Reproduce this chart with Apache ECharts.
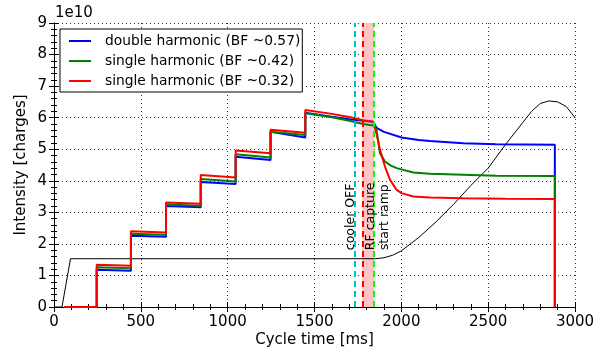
<!DOCTYPE html>
<html>
<head>
<meta charset="utf-8">
<script src="https://cdn.jsdelivr.net/npm/echarts@6/dist/echarts.min.js"></script>
<style>
  html, body { margin: 0; padding: 0; background: #fff; }
  #chart { width: 608px; height: 359px; }
</style>
</head>
<body>
<div id="chart"></div>
<script>
// values in units of 1e10 charges, time in ms
const seriesNames = ['double harmonic (BF ~0.57)', 'single harmonic (BF ~0.42)', 'single harmonic (BF ~0.32)'];

const blueData = [[60,0],[246,0],[246,1.18],[443,1.15],[443,2.26],[645,2.23],[645,3.20],[845,3.16],[845,3.96],[1046,3.90],
  [1046,4.76],[1247,4.66],[1247,5.55],[1447,5.37],[1447,6.16],[1600,6.03],[1700,5.95],[1780,5.90],[1838,5.87],[1857,5.68],
  [1900,5.55],[2001,5.37],[2100,5.29],[2165,5.26],[2356,5.19],[2548,5.16],[2884,5.14],[2884,0]];

const greenData = [[60,0],[246,0],[246,1.26],[443,1.23],[443,2.32],[645,2.29],[645,3.25],[845,3.21],[845,4.06],[1046,3.98],
  [1046,4.84],[1247,4.74],[1247,5.55],[1447,5.45],[1447,6.14],[1600,6.01],[1700,5.90],[1780,5.80],[1838,5.75],[1857,5.62],
  [1877,4.87],[1906,4.61],[1940,4.48],[1973,4.40],[2069,4.26],[2165,4.22],[2356,4.19],[2548,4.16],[2884,4.15],[2884,0]];

const redData = [[60,0],[246,0],[246,1.34],[443,1.31],[443,2.40],[645,2.36],[645,3.31],[845,3.27],[845,4.18],[1046,4.10],
  [1046,4.96],[1247,4.87],[1247,5.62],[1447,5.52],[1447,6.24],[1600,6.12],[1700,6.02],[1780,5.92],[1838,5.87],[1857,5.50],
  [1877,4.98],[1906,4.45],[1935,4.03],[1973,3.71],[2001,3.61],[2069,3.50],[2165,3.47],[2356,3.45],[2600,3.43],[2884,3.42],[2884,0]];

const rampData = [[0,0],[46,0],[95,1.53],[1850,1.53],[1900,1.56],[1950,1.64],[2000,1.78],[2100,2.20],[2200,2.70],[2300,3.25],
  [2400,3.85],[2500,4.40],[2600,5.15],[2700,5.85],[2750,6.20],[2800,6.45],[2850,6.53],[2900,6.50],[2950,6.35],[3000,6.00]];

const coolerOffTime = 1733;
const rfCaptureTime = 1780;
const rampStartTime = 1843;
const captureBand = [1775, 1843];

const xRange = [0, 3000, 500];
const yRange = [0, 9, 1];
const exponentLabel = '1e10';
const eventLabels = [['cooler OFF', 1708], ['RF capture', 1822], ['start ramp', 1902]];
const eventLabelBase = 1.8;

const font = 'DejaVu Sans';
let chart = echarts.init(document.getElementById('chart'));

function plain(v) { return String(v); }

function axisCommon(show) {
  return {
    axisLine: { show: true, lineStyle: { color: '#000', width: 1 } },
    axisTick: { show: true, inside: true, length: 5, lineStyle: { color: '#000' } },
    minorTick: { show: true, splitNumber: 5, length: 3, lineStyle: { color: '#000' } },
    axisLabel: { show: show, color: '#000', fontFamily: font, fontSize: 15, formatter: plain }
  };
}

let option = {
  animation: false,
  backgroundColor: '#fff',
  grid: { left: 54, right: 33, top: 23, bottom: 52 },
  legend: {
    data: seriesNames,
    orient: 'vertical',
    left: 60,
    top: 29,
    padding: [5, 2, 4, 9],
    itemGap: 6,
    itemWidth: 22,
    itemHeight: 2,
    icon: 'rect',
    backgroundColor: '#fff',
    borderColor: '#000',
    borderWidth: 1,
    borderRadius: 0,
    textStyle: { color: '#000', fontFamily: font, fontSize: 13.8, lineHeight: 14, padding: [0, 0, 0, 9] }
  },
  xAxis: [
    Object.assign({
      type: 'value', min: xRange[0], max: xRange[1], interval: xRange[2],
      name: 'Cycle time [ms]', nameLocation: 'middle', nameGap: 26, nameMoveOverlap: false,
      nameTextStyle: { color: '#000', fontFamily: font, fontSize: 15, verticalAlign: 'top' },
      splitLine: { show: true, lineStyle: { color: '#333', type: [1, 3], width: 1 } }
    }, axisCommon(true), { axisLabel: { color: '#000', fontFamily: font, fontSize: 15, margin: 8, formatter: plain } }),
    Object.assign({
      type: 'value', min: xRange[0], max: xRange[1], interval: xRange[2], position: 'top',
      splitLine: { show: false }
    }, axisCommon(false))
  ],
  yAxis: [
    Object.assign({
      type: 'value', min: yRange[0], max: yRange[1], interval: yRange[2],
      name: 'Intensity [charges]', nameLocation: 'middle', nameGap: 25, nameMoveOverlap: false,
      nameTextStyle: { color: '#000', fontFamily: font, fontSize: 15 },
      splitLine: { show: true, lineStyle: { color: '#333', type: [1, 3], width: 1 } }
    }, axisCommon(true), { axisLabel: { color: '#000', fontFamily: font, fontSize: 15, margin: 7, formatter: plain } }),
    Object.assign({
      type: 'value', min: yRange[0], max: yRange[1], interval: yRange[2], position: 'right',
      splitLine: { show: false }
    }, axisCommon(false))
  ],
  series: [
    {
      name: 'ramp', type: 'line', data: rampData, symbol: 'none',
      lineStyle: { color: '#000', width: 1 }, itemStyle: { color: '#000' }, z: 1,
      markArea: {
        silent: true,
        itemStyle: { color: '#ffc4c4' },
        data: [[{ xAxis: captureBand[0] }, { xAxis: captureBand[1] }]]
      },
      markLine: {
        silent: true, symbol: 'none', label: { show: false },
        lineStyle: { width: 2, type: [6, 4] },
        data: [
          { xAxis: coolerOffTime, lineStyle: { color: '#00bfbf', width: 2, type: [6, 4] } },
          { xAxis: rfCaptureTime, lineStyle: { color: '#ff0000', width: 2, type: [6, 4] } },
          { xAxis: rampStartTime, lineStyle: { color: '#00ff00', width: 2, type: [6, 4] } }
        ]
      }
    },
    { name: seriesNames[0], type: 'line', data: blueData, symbol: 'none',
      lineStyle: { color: '#0000ff', width: 2 }, itemStyle: { color: '#0000ff' }, z: 2 },
    { name: seriesNames[1], type: 'line', data: greenData, symbol: 'none',
      lineStyle: { color: '#008000', width: 2 }, itemStyle: { color: '#008000' }, z: 3 },
    { name: seriesNames[2], type: 'line', data: redData, symbol: 'none',
      lineStyle: { color: '#ff0000', width: 2 }, itemStyle: { color: '#ff0000' }, z: 4 }
  ]
};

chart.setOption(option);

// rotated event labels and the exponent label
let graphics = [{
  type: 'text', left: 55, top: 6,
  style: { text: exponentLabel, fill: '#000', font: '15px "' + font + '"' }
}];
eventLabels.forEach(function (lab) {
  let p = chart.convertToPixel({ gridIndex: 0 }, [lab[1], eventLabelBase]);
  graphics.push({
    type: 'text', x: p[0], y: p[1], rotation: Math.PI / 2, z: 10,
    style: { text: lab[0], fill: '#000', font: '12.5px "' + font + '"', textAlign: 'left', textVerticalAlign: 'middle' }
  });
});
chart.setOption({ graphic: graphics });
</script>
</body>
</html>
